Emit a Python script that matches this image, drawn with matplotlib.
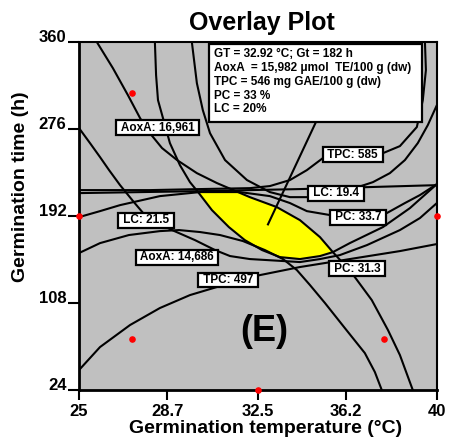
import matplotlib.pyplot as plt
from matplotlib.patches import Rectangle, Polygon
import numpy as np

plt.rcParams['font.family'] = ['Liberation Sans', 'DejaVu Sans']
plt.rcParams['font.weight'] = 'bold'

# contour lines, points are (temperature degC, time h)
aox_hi = [(25.75, 360), (26.42, 334.9), (27.05, 308.8), (27.56, 286.6), (27.97, 272.1),
          (28.48, 257.7), (29.11, 246.1), (29.94, 233.5), (30.78, 223.9), (32.16, 210.3),
          (33.29, 200.7), (34.26, 188.1), (35.10, 171.7), (35.64, 157.2), (36.14, 144.7),
          (36.56, 133.1), (37.27, 110.9), (37.95, 81.9), (38.45, 57.8), (38.99, 24.0)]
aox_lo = [(28.18, 360), (28.23, 328.1), (28.31, 304.0), (28.52, 286.6), (28.81, 262.5),
          (29.23, 241.2), (29.65, 224.8), (29.99, 215.2), (30.57, 197.8), (31.28, 181.4),
          (31.95, 168.8), (32.67, 159.2), (33.42, 152.4), (34.26, 150.5), (35.10, 153.4),
          (35.64, 157.2), (36.35, 165.9), (37.74, 181.4), (38.87, 199.7), (40.0, 222.9)]
tpc_hi = [(39.50, 360), (39.54, 333.0), (39.41, 304.0), (39.16, 278.0), (38.45, 259.6),
          (37.74, 252.8), (36.48, 250.9), (35.22, 248.0), (34.55, 236.4), (33.84, 226.8),
          (33.00, 221.0), (32.16, 219.0), (30.07, 218.1), (27.97, 217.1), (25.0, 217.1)]
tpc_mid = [(29.73, 360), (29.94, 320.4), (30.19, 294.3), (30.49, 272.1), (31.12, 246.1),
           (32.04, 226.8), (33.00, 215.2), (33.84, 210.3), (34.68, 210.3), (35.52, 213.2),
           (36.56, 219.0), (37.32, 224.8), (38.03, 233.5), (38.66, 246.1), (39.20, 262.5),
           (39.62, 279.9), (40.0, 299.2)]
tpc_lo = [(25.0, 43.3), (25.88, 65.5), (27.14, 86.8), (28.39, 103.2), (29.65, 115.7),
          (30.78, 123.5), (32.58, 135.0), (34.26, 142.8), (36.35, 150.5), (38.45, 158.2),
          (40.0, 165.0)]
lc_lo = [(25.0, 214.2), (30.07, 216.1), (34.26, 218.1), (40.0, 221.9)]
lc_hi = [(25.0, 277.0), (25.46, 262.5), (25.88, 249.0), (26.26, 236.4), (26.72, 221.9),
         (27.30, 205.5), (27.76, 193.0), (28.39, 184.3), (28.90, 178.5), (29.86, 168.8),
         (30.70, 159.2), (31.33, 153.4), (32.16, 150.5), (33.55, 148.6), (34.26, 147.6),
         (35.10, 150.5), (35.93, 154.3), (37.07, 164.0), (38.45, 178.5), (39.29, 190.1),
         (40.0, 204.6)]
pc_hi = [(25.0, 191.0), (25.88, 196.8), (26.72, 202.6), (28.39, 211.3), (30.07, 215.2),
         (31.74, 215.2), (33.00, 211.3), (33.84, 204.6), (34.55, 196.8), (35.52, 193.0),
         (36.77, 193.0), (37.90, 194.9), (38.66, 204.6), (39.29, 212.3), (40.0, 222.9)]
pc_lo = [(25.0, 156.3), (25.88, 165.9), (27.09, 173.7), (28.39, 177.5), (29.19, 178.5),
         (30.07, 176.6), (30.91, 173.7), (31.87, 167.9), (32.79, 159.2), (33.55, 150.5),
         (34.13, 139.9), (34.68, 125.4), (35.31, 108.0), (36.14, 83.9), (36.98, 59.7),
         (37.40, 41.4), (37.69, 24.0)]
curves = [aox_hi, aox_lo, tpc_hi, tpc_mid, tpc_lo, lc_lo, lc_hi, pc_hi, pc_lo]

# yellow feasible window
feasible = [(29.99, 215.2), (31.58, 216.1), (32.16, 210.3), (33.29, 200.7), (34.26, 188.1),
            (35.10, 171.7), (35.64, 157.2), (35.10, 153.4), (34.26, 150.5), (33.42, 152.4),
            (32.67, 159.2), (31.95, 168.8), (31.28, 181.4), (30.57, 197.8)]

# flag labels: text, temperature, time
flags = [("AoxA: 16,961", 28.29, 277.4), ("TPC: 585", 36.48, 251.4),
         ("LC: 19.4", 35.77, 214.2), ("PC: 33.7", 36.69, 191.0),
         ("LC: 21.5", 27.81, 188.1), ("AoxA: 14,686", 29.11, 152.4),
         ("TPC: 497", 31.24, 130.2), ("PC: 31.3", 36.65, 141.3)]

design_t = [25, 27.2, 27.2, 32.5, 40, 37.8]
design_h = [192, 310.8, 73.2, 24, 192, 73.2]

opt_t, opt_h = 32.92, 184
info = ("GT = 32.92 \u00b0C; Gt = 182 h\n"
        "AoxA  = 15,982 \u03bcmol  TE/100 g (dw)\n"
        "TPC = 546 mg GAE/100 g (dw)\n"
        "PC = 33 %\n"
        "LC = 20%")

x_ticks = [25, 28.7, 32.5, 36.2, 40]
x_labels = ["25", "28.7", "32.5", "36.2", "40"]
y_ticks = [24, 108, 192, 276, 360]

fig = plt.figure(figsize=(4.49, 4.42), dpi=100)
ax = fig.add_axes([0.176, 0.1176, 0.797, 0.787])
ax.set_facecolor('#c0c0c0')
ax.set_xlim(25, 40)
ax.set_ylim(24, 360)

ax.add_patch(Polygon(feasible, closed=True, fc='#ffff00', ec='none', zorder=1))
for c in curves:
    c = np.array(c)
    ax.plot(c[:, 0], c[:, 1], color='black', lw=1.5, zorder=2, solid_joinstyle='round')

for s, t, h in flags:
    ax.text(t, h, " " + s + " ", ha='center', va='center', fontsize=8.5, weight='bold',
            zorder=5, bbox=dict(boxstyle='square,pad=0.12', fc='white', ec='black', lw=1.6))

# info box with pointer to the optimum
ax.plot([34.93, opt_t], [282.8, opt_h], color='black', lw=1.5, zorder=3)
ax.add_patch(Rectangle((30.45, 282.8), 8.92, 75.3, fc='white', ec='black', lw=1.6, zorder=6))
ax.text(30.66, 354.2, info, ha='left', va='top', fontsize=8.5, weight='bold',
        linespacing=1.2, zorder=7)

ax.text(32.75, 81.0, "(E)", ha='center', va='center', fontsize=26, weight='bold', zorder=4)

ax.scatter(design_t, design_h, s=14, color='red', zorder=8, clip_on=False)

for sp in ax.spines.values():
    sp.set_linewidth(1.5)
ax.spines['left'].set_linewidth(2)
ax.spines['bottom'].set_linewidth(2)

ax.set_xticks(x_ticks)
ax.set_xticklabels(x_labels)
ax.set_yticks(y_ticks)
ax.tick_params(axis='x', direction='out', length=7, width=1.5, pad=3, labelsize=12)
ax.tick_params(axis='y', direction='out', length=8, width=1.5, pad=1, labelsize=12)
for lab in ax.get_yticklabels():
    lab.set_va('baseline')

ax.set_xlabel("Germination temperature (\u00b0C)", fontsize=14, weight='bold')
ax.xaxis.set_label_coords(0.52, -0.086)
ax.set_ylabel("Germination time (h)", fontsize=14, weight='bold')
ax.yaxis.set_label_coords(-0.14, 0.585)
ax.text(0.51, 1.034, "Overlay Plot", transform=ax.transAxes, ha='center', va='baseline',
        fontsize=18, weight='bold')

fig.savefig("out.png", dpi=100)
